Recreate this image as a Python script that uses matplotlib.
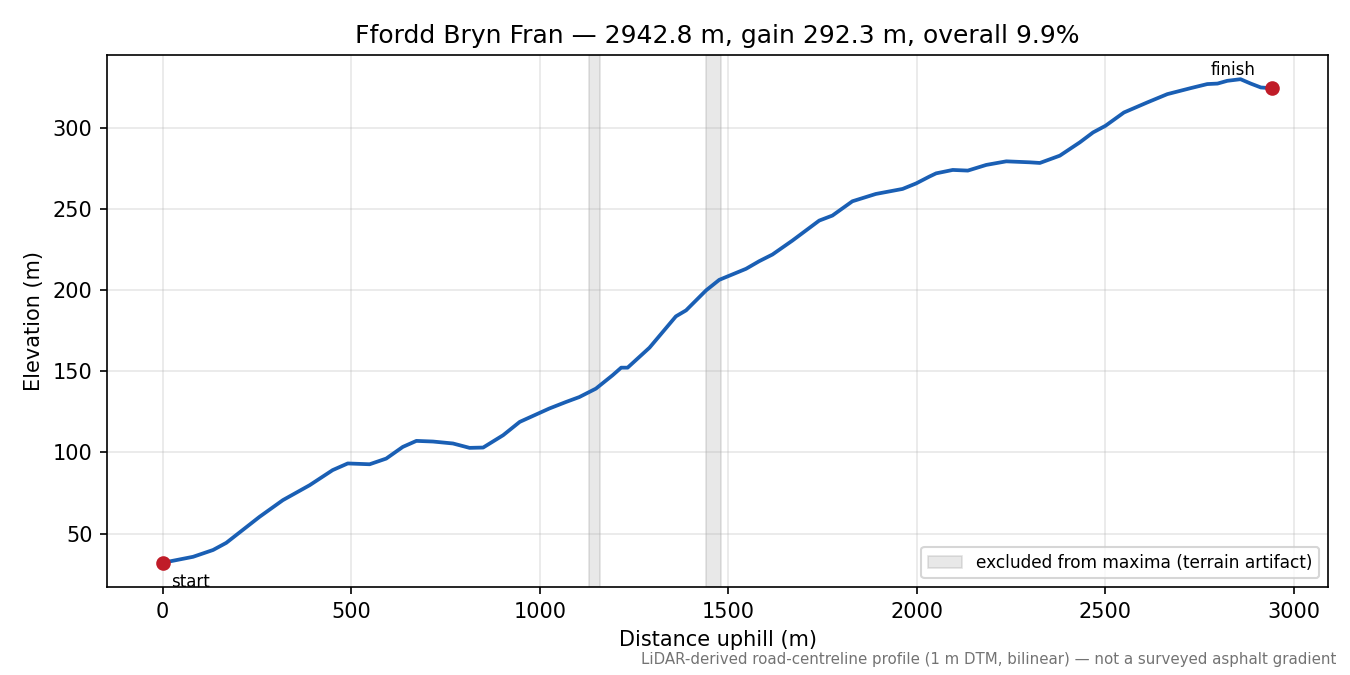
import matplotlib
matplotlib.use("Agg")
import matplotlib.pyplot as plt
import numpy as np

distance_m = [0, 81, 134, 169, 257, 319, 390, 451, 491, 549, 593, 637, 673, 717, 770,
              814, 850, 903, 947, 1025, 1070, 1105, 1149, 1193, 1216, 1233, 1291, 1361,
              1388, 1441, 1476, 1547, 1582, 1617, 1670, 1741, 1776, 1829, 1891, 1962,
              1998, 2033, 2051, 2095, 2135, 2184, 2237, 2299, 2326, 2379, 2432, 2467,
              2500, 2549, 2611, 2664, 2726, 2770, 2797, 2823, 2858, 2885, 2912, 2942.8]
elevation_m = [32.0, 35.7, 39.9, 44.3, 60.3, 70.6, 79.8, 89.1, 93.2, 92.7, 96.2, 103.4,
               107.1, 106.7, 105.5, 102.8, 103.0, 110.6, 118.8, 127.0, 131.1, 134.1,
               139.3, 147.5, 152.2, 152.2, 164.5, 183.8, 187.5, 199.8, 206.3, 213.1,
               217.8, 221.9, 230.5, 242.8, 245.9, 254.7, 259.2, 262.3, 265.7, 269.9,
               271.9, 274.0, 273.6, 277.1, 279.3, 278.7, 278.3, 282.8, 291.0, 297.1,
               301.2, 309.4, 315.6, 320.7, 324.4, 326.9, 327.2, 328.9, 329.9, 327.2,
               324.8, 324.3]
excluded_start = [1130, 1440]
excluded_end = [1160, 1480]

title = "Ffordd Bryn Fran \u2014 2942.8 m, gain 292.3 m, overall 9.9%"
footnote = "LiDAR-derived road-centreline profile (1 m DTM, bilinear) \u2014 not a surveyed asphalt gradient"

fig = plt.figure(figsize=(9, 4.5), dpi=150)
ax = fig.add_axes([0.0793, 0.1304, 0.9044, 0.7881])

for i, (a, b) in enumerate(zip(excluded_start, excluded_end)):
    ax.axvspan(a, b, facecolor="0.55", edgecolor="0.45", alpha=0.2, lw=0.8,
               label="excluded from maxima (terrain artifact)" if i == 0 else None)

ax.plot(distance_m, elevation_m, color="#1a5fb4", lw=1.8, zorder=3)
ax.plot([distance_m[0], distance_m[-1]], [elevation_m[0], elevation_m[-1]], "o",
        color="#c01c28", ms=6, zorder=4)
ax.annotate("start", (distance_m[0], elevation_m[0]), xytext=(4, -9),
            textcoords="offset points", fontsize=8, ha="left", va="center")
ax.annotate("finish", (distance_m[-1], elevation_m[-1]), xytext=(-19, 9),
            textcoords="offset points", fontsize=8, ha="center", va="center")

ax.grid(True, alpha=0.3)
ax.set_xlabel("Distance uphill (m)")
ax.set_ylabel("Elevation (m)")
ax.set_title(title, fontsize=12)
ax.legend(loc="lower right", fontsize=8.2)
fig.text(0.99, 0.012, footnote, ha="right", va="bottom", fontsize=7.2, color="0.45")

fig.savefig("out.png", dpi=150)
